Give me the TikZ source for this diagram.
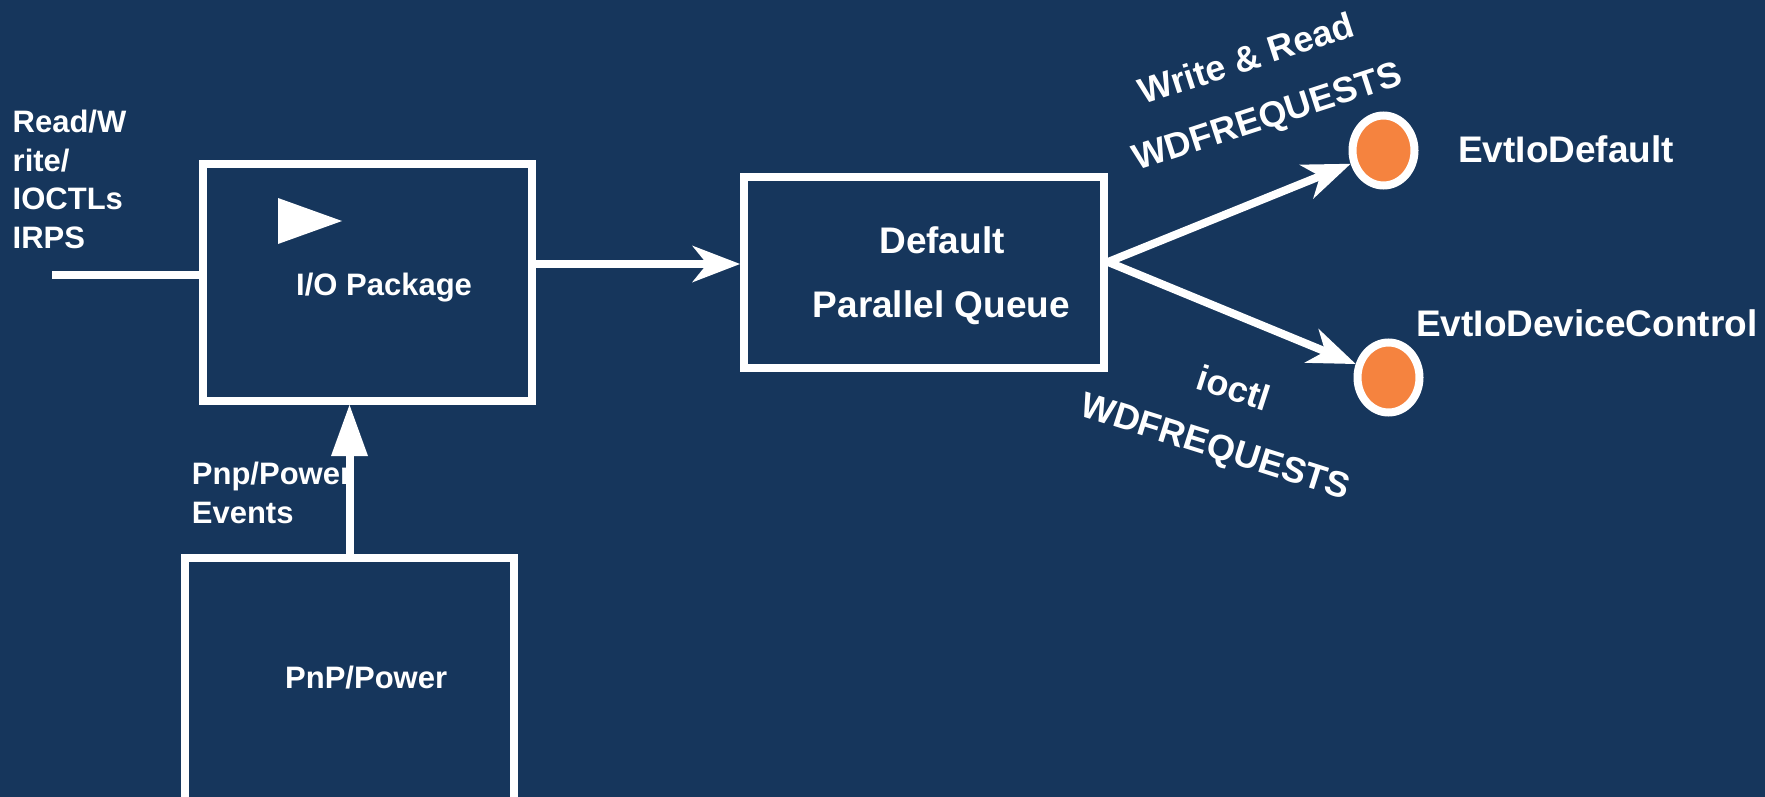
\documentclass[tikz,border=0pt]{standalone}
\usepackage{fontspec}
\setmainfont{Liberation Sans}
\usetikzlibrary{arrows.meta,shapes.geometric}
\definecolor{navy}{HTML}{16365C}
\definecolor{dotorange}{HTML}{F5833F}
\begin{document}
\begin{tikzpicture}[x=1pt,y=-1pt,
  box/.style={draw=white, line width=8pt, rectangle, inner sep=0pt},
  lbl/.style={text=white, font=\bfseries\fontsize{31}{38.5}\selectfont, inner sep=0pt},
  biglbl/.style={text=white, font=\bfseries\fontsize{37}{44}\selectfont, inner sep=0pt},
  rlbl/.style={text=white, font=\bfseries\fontsize{36}{42}\selectfont, inner sep=0pt},
  wire/.style={draw=white, line width=8pt},
  arr/.style={wire, -{Stealth[length=48pt,width=37pt,inset=15pt,line width=0pt]}},
  uparr/.style={wire, -{Triangle[length=51pt,width=37pt,line width=0pt]}},
  dot/.style={ellipse, draw=white, fill=dotorange, line width=8pt,
    minimum width=62pt, minimum height=70pt, inner sep=0pt}
]
% canvas
\fill[navy] (0,0) rectangle (1765,797);
\useasboundingbox (0,0) rectangle (1765,797);
\clip (0,0) rectangle (1765,797);

% boxes
\node[box, minimum width=329pt, minimum height=237pt] (io) at (367.5,282.5) {};
\node[box, minimum width=360pt, minimum height=191pt] (queue) at (924,272.5) {};
\node[box, minimum width=329pt, minimum height=272pt] (pnp) at (349.5,694) {};

% callback dots
\node[dot] (cdef) at (1383.5,150.5) {};
\node[dot] (cctl) at (1388.5,377.5) {};

% play marker inside the I/O package
\fill[white] (278,198) -- (278,244) -- (342,221) -- cycle;

% texts (multi-line nodes are anchored at the baseline of their last line)
\node[lbl, anchor=base west, align=left] (rwlbl) at (12.5,248) {Read/W\\rite/\\IOCTLs\\IRPS};
\node[lbl, anchor=base west] (iotxt) at (296,295) {I/O Package};
\node[lbl, anchor=base west, align=left] (evlbl) at (191.7,523) {Pnp/Power\\Events};
\node[lbl, anchor=base west] (pnptxt) at (285,688) {PnP/Power};
\node[biglbl, anchor=base] (qt1) at (942,253) {Default};
\node[biglbl, anchor=base] (qt2) at (941.3,317) {Parallel Queue};
\node[biglbl, anchor=base west] (deftxt) at (1458,163) {EvtIoDefault};
\node[biglbl, anchor=base west] (ctltxt) at (1416,336) {EvtIoDeviceControl};
\node[rlbl, rotate=18] (wrlbl) at (1246,58) {Write \& Read};
\node[rlbl, rotate=18] (wrreq) at (1268,119) {WDFREQUESTS};
\node[rlbl, rotate=-18] (ioclbl) at (1234,388) {ioctl};
\node[rlbl, rotate=-17.5] (iocreq) at (1215,449) {WDFREQUESTS};

% connectors
\coordinate (inpt) at (52,275);
\coordinate (ioout) at ([yshift=18.5pt]io.east);
\coordinate (fork) at ([yshift=10.5pt]queue.east);
\draw[wire] (inpt) -- (inpt -| io.west);
\draw[arr] (ioout) -- (ioout -| queue.west);
\draw[arr] (fork) -- (cdef);
\draw[arr] (fork) -- (cctl);
\draw[uparr] (pnp.north) -- (pnp.north |- io.south);
\end{tikzpicture}
\end{document}
